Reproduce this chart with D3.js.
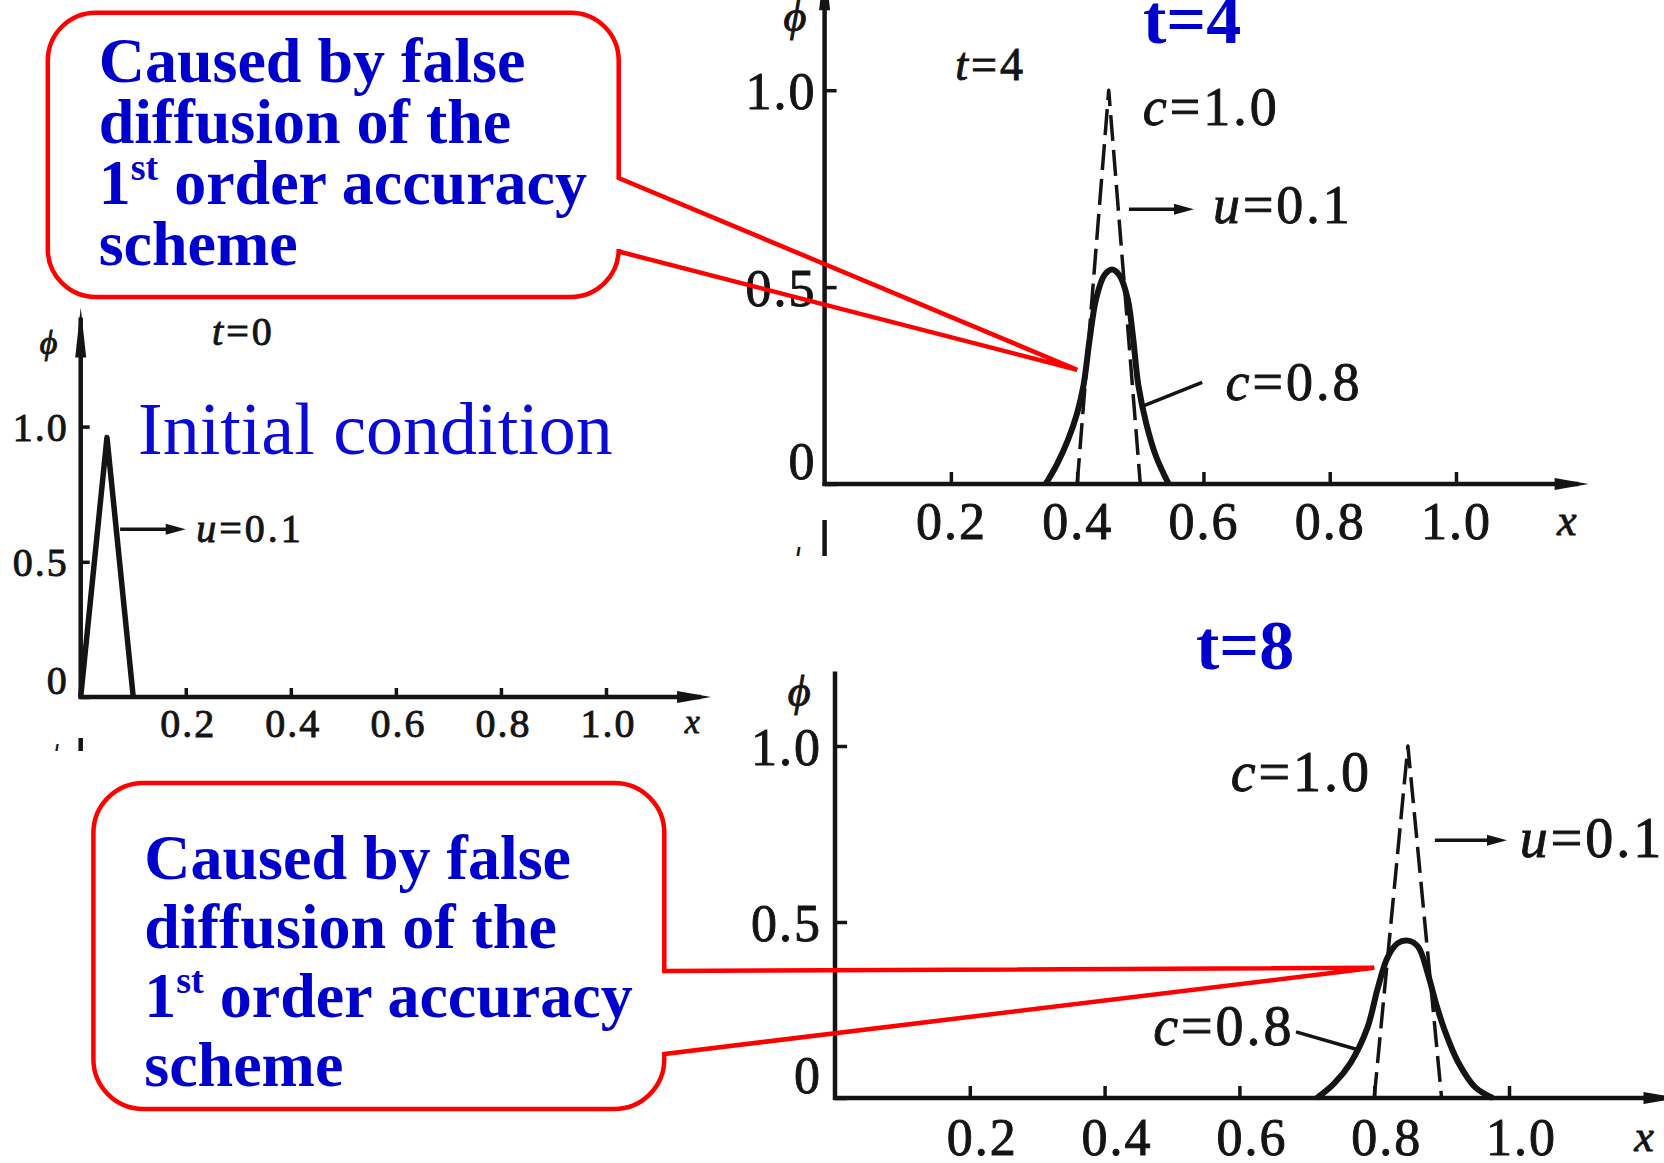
<!DOCTYPE html>
<html><head><meta charset="utf-8">
<script src="https://cdn.jsdelivr.net/npm/d3@7"></script>
<style>html,body{margin:0;padding:0;background:#fff;} svg{display:block;}</style>
</head><body>
<svg id="chart" width="1664" height="1163"></svg>
<script>
// ---------------- data ----------------
const xTickValues = [0.2, 0.4, 0.6, 0.8, 1.0];
const xTickLabels = ["0.2", "0.4", "0.6", "0.8", "1.0"];
const yTickValues = [0, 0.5, 1.0];
const yTickLabels = ["0", "0.5", "1.0"];

// t = 0 : initial triangular pulse
const initX   = [0, 0.05, 0.10];
const initPhi = [0, 0.96, 0];

// t = 4 : exact (c = 1.0, dashed) and first-order upwind (c = 0.8, solid)
const exact4X   = [0.40, 0.45, 0.50];
const exact4Phi = [0, 1.0, 0];
const upwind4X   = [0.35, 0.368, 0.385, 0.40, 0.41, 0.42, 0.43, 0.443, 0.455, 0.467, 0.48, 0.488, 0.497, 0.51, 0.525, 0.545];
const upwind4Phi = [0, 0.05, 0.11, 0.18, 0.25, 0.37, 0.47, 0.53, 0.545, 0.53, 0.47, 0.38, 0.25, 0.15, 0.07, 0];

// t = 8
const exact8X   = [0.80, 0.85, 0.90];
const exact8Phi = [0, 1.0, 0];
const upwind8X   = [0.715, 0.74, 0.765, 0.79, 0.805, 0.82, 0.835, 0.85, 0.865, 0.88, 0.893, 0.905, 0.925, 0.95, 0.976];
const upwind8Phi = [0, 0.04, 0.10, 0.20, 0.31, 0.40, 0.44, 0.447, 0.43, 0.35, 0.26, 0.19, 0.10, 0.03, 0];

const calloutLines = ["Caused by false", "diffusion of the", "1", "scheme"];
const calloutSup = "st";
const calloutLine3Rest = " order accuracy";
const panelTitles = ["t=4", "t=8"];
const initialLabel = "Initial condition";

// ---------------- styling ----------------
const ink = "#141414";
const serif = "'Liberation Serif','Times New Roman',serif";
const blue = "#0000cc";
const red = "#ff0000";

const svg = d3.select("#chart");
const zip = (a, b) => a.map((v, i) => [v, b[i]]);

function drawPanel(cfg) {
  const x = d3.scaleLinear().domain([0, 1]).range([cfg.x0, cfg.x1]);
  const y = d3.scaleLinear().domain([0, 1]).range([cfg.y0, cfg.y1]);
  const g = svg.append("g");

  const gx = g.append("g").attr("transform", `translate(0,${cfg.y0})`)
    .call(d3.axisBottom(x).tickValues(xTickValues)
      .tickFormat((d, i) => xTickLabels[i]).tickSizeInner(-cfg.tick).tickSizeOuter(0));
  gx.select(".domain").remove();
  gx.selectAll(".tick line").attr("stroke", ink).attr("stroke-width", 3.5);
  gx.selectAll(".tick text").attr("font-family", serif).attr("font-size", cfg.fs)
    .attr("fill", ink).attr("stroke", ink).attr("stroke-width", 0.9)
    .attr("y", cfg.xLabelOff).attr("dy", 0).attr("dx", cfg.xdx).attr("letter-spacing", 2);

  const gy = g.append("g").attr("transform", `translate(${cfg.x0},0)`)
    .call(d3.axisLeft(y).tickValues(yTickValues)
      .tickFormat((d, i) => yTickLabels[i]).tickSizeInner(-cfg.tick).tickSizeOuter(0).tickPadding(cfg.yPad));
  gy.select(".domain").remove();
  gy.selectAll(".tick line").attr("stroke", ink).attr("stroke-width", 3.5);
  gy.selectAll(".tick text").attr("font-family", serif).attr("font-size", cfg.fs)
    .attr("fill", ink).attr("stroke", ink).attr("stroke-width", 0.9).attr("letter-spacing", 2)
    .attr("dy", (d) => d === 0 ? "-0.1em" : "0.35em");

  const xEnd = x(cfg.xArrow), yTop = y(cfg.yArrow);
  g.append("line").attr("x1", cfg.x0 - 2).attr("x2", xEnd - 10).attr("y1", cfg.y0).attr("y2", cfg.y0)
    .attr("stroke", ink).attr("stroke-width", 4.5);
  g.append("path").attr("d", `M${xEnd},${cfg.y0} L${xEnd - 34},${cfg.y0 - 6} L${xEnd - 34},${cfg.y0 + 6} Z`).attr("fill", ink);
  g.append("line").attr("x1", cfg.x0).attr("x2", cfg.x0).attr("y1", cfg.y0 + 2).attr("y2", yTop + 10)
    .attr("stroke", ink).attr("stroke-width", 4.5);
  if (cfg.yHead) {
    g.append("path").attr("d", `M${cfg.x0},${yTop} L${cfg.x0 - 5.5},${yTop + 50} L${cfg.x0 + 5.5},${yTop + 50} Z`).attr("fill", ink);
  }

  g.append("text").attr("x", x(cfg.xLetter)).attr("y", cfg.y0 + cfg.xLabelOff - 4)
    .attr("font-family", serif).attr("font-style", "italic").attr("font-size", cfg.fs * 0.85)
    .attr("fill", ink).attr("stroke", ink).attr("stroke-width", 0.8).text("x");
  g.append("text").attr("x", x(cfg.phiPos[0])).attr("y", y(cfg.phiPos[1]))
    .attr("font-family", serif).attr("font-style", "italic").attr("font-size", cfg.fs * 0.85)
    .attr("fill", ink).attr("stroke", ink).attr("stroke-width", 1).text("ϕ");
  return { g, x, y };
}

function label(p, pos, italic, rest, fs) {
  const t = p.g.append("text").attr("x", p.x(pos[0])).attr("y", p.y(pos[1]))
    .attr("font-family", serif).attr("font-size", fs).attr("fill", ink)
    .attr("stroke", ink).attr("stroke-width", 0.9).attr("letter-spacing", 3);
  t.append("tspan").attr("font-style", "italic").text(italic);
  t.append("tspan").text(rest);
}
function arrow(p, a, b) {
  const x1 = p.x(a[0]), y1 = p.y(a[1]), x2 = p.x(b[0]), y2 = p.y(b[1]);
  p.g.append("line").attr("x1", x1).attr("y1", y1).attr("x2", x2 - 10).attr("y2", y2)
    .attr("stroke", ink).attr("stroke-width", 3.5);
  p.g.append("path").attr("d", `M${x2},${y2} L${x2 - 20},${y2 - 5.5} L${x2 - 20},${y2 + 5.5} Z`).attr("fill", ink);
}
function leader(p, a, b) {
  p.g.append("line").attr("x1", p.x(a[0])).attr("y1", p.y(a[1])).attr("x2", p.x(b[0])).attr("y2", p.y(b[1]))
    .attr("stroke", ink).attr("stroke-width", 3.5);
}
function curve(p, xs, ys, opts) {
  const line = d3.line().x(d => p.x(d[0])).y(d => p.y(d[1]))
    .curve(opts.smooth ? d3.curveCatmullRom.alpha(0.5) : d3.curveLinear);
  p.g.append("path").datum(zip(xs, ys)).attr("d", line).attr("fill", "none")
    .attr("stroke", ink).attr("stroke-width", opts.w).attr("stroke-linejoin", "round")
    .attr("stroke-dasharray", opts.dash || null);
}

// ---------------- panel 1 : t = 0 ----------------
const p1 = drawPanel({ x0: 80.7, x1: 606, y0: 697, y1: 426.6, tick: 9, fs: 40, xLabelOff: 40, xdx: 2, yPad: 12,
  xArrow: 1.2, yArrow: 1.44, yHead: true, xLetter: 1.15, phiPos: [-0.078, 1.27] });
curve(p1, initX, initPhi, { w: 5.5 });
arrow(p1, [0.075, 0.62], [0.20, 0.62]);
label(p1, [0.22, 0.575], "u", "=0.1", 40);
label(p1, [0.25, 1.30], "t", "=0", 40);

// ---------------- panel 2 : t = 4 ----------------
const p2 = drawPanel({ x0: 824.6, x1: 1456, y0: 484, y1: 90.2, tick: 12, fs: 52, xLabelOff: 55, xdx: 0, yPad: 8,
  xArrow: 1.21, yArrow: 1.33, yHead: true, xLetter: 1.16, phiPos: [-0.065, 1.15] });
curve(p2, exact4X, exact4Phi, { w: 3.5, dash: "26,9" });
curve(p2, upwind4X, upwind4Phi, { w: 6, smooth: true });
label(p2, [0.207, 1.027], "t", "=4", 46);
label(p2, [0.504, 0.911], "c", "=1.0", 54);
arrow(p2, [0.482, 0.698], [0.585, 0.698]);
label(p2, [0.615, 0.663], "u", "=0.1", 54);
label(p2, [0.635, 0.213], "c", "=0.8", 54);
leader(p2, [0.598, 0.258], [0.50, 0.195]);

// ---------------- panel 3 : t = 8 ----------------
const p3 = drawPanel({ x0: 835, x1: 1509, y0: 1098, y1: 746, tick: 12, fs: 52, xLabelOff: 57, xdx: 12, yPad: 13,
  xArrow: 1.25, yArrow: 1.24, yHead: false, xLetter: 1.186, phiPos: [-0.07, 1.114] });
curve(p3, exact8X, exact8Phi, { w: 3.5, dash: "26,9" });
curve(p3, upwind8X, upwind8Phi, { w: 6, smooth: true });
label(p3, [0.587, 0.873], "c", "=1.0", 56);
arrow(p3, [0.89, 0.732], [0.997, 0.732]);
label(p3, [1.016, 0.684], "u", "=0.1", 56);
label(p3, [0.472, 0.15], "c", "=0.8", 56);
leader(p3, [0.684, 0.188], [0.776, 0.137]);

// scan fragments (tops of the next stacked figures), clipped
const defs = svg.append("defs");
defs.append("clipPath").attr("id", "clip1").append("rect").attr("x", 0).attr("y", 0).attr("width", 720).attr("height", 751);
defs.append("clipPath").attr("id", "clip2").append("rect").attr("x", 760).attr("y", 0).attr("width", 900).attr("height", 556);
const f1 = svg.append("g").attr("clip-path", "url(#clip1)");
f1.append("text").attr("x", p1.x(-0.07)).attr("y", 772).attr("font-family", serif).attr("font-style", "italic")
  .attr("font-size", 40).attr("fill", ink).text("ϕ");
f1.append("line").attr("x1", p1.x(0)).attr("x2", p1.x(0)).attr("y1", 738).attr("y2", 760).attr("stroke", ink).attr("stroke-width", 4.5);
const f2 = svg.append("g").attr("clip-path", "url(#clip2)");
f2.append("text").attr("x", p2.x(-0.065)).attr("y", 580).attr("font-family", serif).attr("font-style", "italic")
  .attr("font-size", 46).attr("fill", ink).text("ϕ");
f2.append("line").attr("x1", p2.x(0)).attr("x2", p2.x(0)).attr("y1", 520).attr("y2", 560).attr("stroke", ink).attr("stroke-width", 4.5);

// ---------------- blue labels ----------------
svg.append("text").attr("x", 138).attr("y", 454).attr("font-family", serif).attr("font-size", 74)
  .attr("fill", "#0a0ad6").text(initialLabel);
svg.append("text").attr("x", 1143).attr("y", 43).attr("font-family", serif).attr("font-weight", "bold")
  .attr("font-size", 70).attr("fill", blue).text(panelTitles[0]);
svg.append("text").attr("x", 1196).attr("y", 669).attr("font-family", serif).attr("font-weight", "bold")
  .attr("font-size", 70).attr("fill", blue).text(panelTitles[1]);

// ---------------- callouts ----------------
function callout(box, tip, textX, base0, lh) {
  const { L, T, R, B, r, yA, yB } = box;
  const d = `M${L + r},${T} H${R - r} A${r},${r} 0 0 1 ${R},${T + r} V${yA} L${tip[0]},${tip[1]} L${R},${yB} ` +
    `V${B - r} A${r},${r} 0 0 1 ${R - r},${B} H${L + r} A${r},${r} 0 0 1 ${L},${B - r} V${T + r} A${r},${r} 0 0 1 ${L + r},${T} Z`;
  svg.append("path").attr("d", d).attr("fill", "none").attr("stroke", red).attr("stroke-width", 4.5)
    .attr("stroke-linejoin", "miter");
  const t = svg.append("text").attr("font-family", serif).attr("font-weight", "bold")
    .attr("font-size", 64).attr("fill", blue);
  calloutLines.forEach((s, i) => {
    t.append("tspan").attr("x", textX).attr("y", base0 + i * lh).text(s);
    if (i === 2) {
      t.append("tspan").attr("font-size", 38).attr("dy", -24).text(calloutSup);
      t.append("tspan").attr("dy", 24).text(calloutLine3Rest);
    }
  });
}
callout({ L: 47.8, T: 12.7, R: 618.7, B: 297, r: 48, yA: 178, yB: 251.5 }, [p2.x(0.40), p2.y(0.29)], 98.7, 81.7, 61);
callout({ L: 93.4, T: 783, R: 664.3, B: 1109, r: 50, yA: 971, yB: 1054 }, [p3.x(0.80), p3.y(0.37)], 144.3, 878.7, 69);
</script>
</body></html>
